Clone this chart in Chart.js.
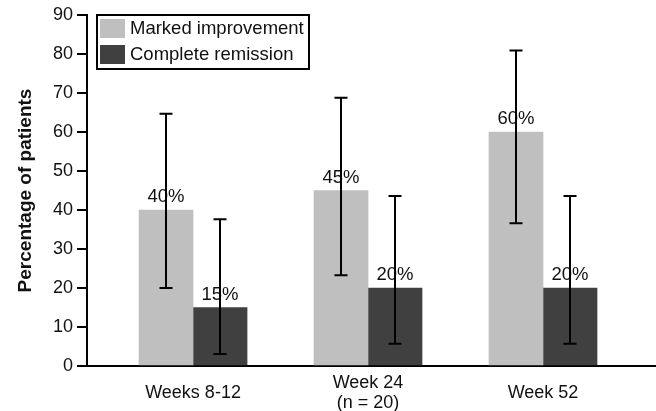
<!DOCTYPE html>
<html>
<head>
<meta charset="utf-8">
<script src="https://cdn.jsdelivr.net/npm/chart.js@4.4.0/dist/chart.umd.min.js"></script>
<style>
  html, body { margin: 0; padding: 0; background: #fff; }
</style>
</head>
<body>
<canvas id="ch" width="656" height="411"></canvas>
<script>
// ── Datos ─────────────────────────────────────────────────────────────────
const categories    = [['Weeks 8-12'], ['Week 24', '(n = 20)'], ['Week 52']];
const seriesNames   = ['Marked improvement', 'Complete remission'];
const marked        = [40, 45, 60];
const remission     = [15, 20, 20];
const markedLow     = [20, 23.3, 36.6];
const markedHigh    = [64.7, 68.8, 80.9];
const remissionLow  = [3.1, 5.7, 5.7];
const remissionHigh = [37.6, 43.6, 43.6];
const yMax  = 90;
const yStep = 10;

const errors = [
    { low: markedLow,    high: markedHigh },
    { low: remissionLow, high: remissionHigh },
];

const FONT = "'Liberation Sans', Arial, sans-serif";
const INK  = '#111';
Chart.defaults.font.family = FONT;

// ── Etiquetas % y barras de error ─────────────────────────────────────────
const barExtras = {
    id: 'barExtras',
    afterDatasetsDraw(chart) {
        const { ctx, scales: { y } } = chart;
        ctx.save();
        // etiquetas primero, la linea de error pasa por encima
        ctx.font = `18.5px ${FONT}`;
        ctx.fillStyle = INK;
        ctx.textAlign = 'center';
        ctx.textBaseline = 'alphabetic';
        chart.data.datasets.forEach((ds, d) => {
            chart.getDatasetMeta(d).data.forEach((el, i) => {
                ctx.fillText(`${ds.data[i].y}%`, el.x, el.y - 8);
            });
        });
        ctx.strokeStyle = '#000';
        ctx.lineWidth = 2;
        chart.data.datasets.forEach((ds, d) => {
            const err = errors[d];
            chart.getDatasetMeta(d).data.forEach((el, i) => {
                const yl = y.getPixelForValue(err.low[i]);
                const yh = y.getPixelForValue(err.high[i]);
                const x = Math.round(el.x);
                ctx.beginPath();
                ctx.moveTo(x, yl); ctx.lineTo(x, yh);
                ctx.moveTo(x - 6.5, yl); ctx.lineTo(x + 6.5, yl);
                ctx.moveTo(x - 6.5, yh); ctx.lineTo(x + 6.5, yh);
                ctx.stroke();
            });
        });
        ctx.restore();
    },
};

// ── Leyenda con marco ─────────────────────────────────────────────────────
const boxedLegend = {
    id: 'boxedLegend',
    afterDraw(chart) {
        const ctx = chart.ctx;
        ctx.save();
        ctx.fillStyle = '#fff';
        ctx.fillRect(97, 15, 212, 54);
        ctx.strokeStyle = '#000';
        ctx.lineWidth = 2;
        ctx.strokeRect(97, 15, 212, 54);
        ctx.font = `18.5px ${FONT}`;
        ctx.textAlign = 'left';
        ctx.textBaseline = 'middle';
        chart.data.datasets.forEach((ds, d) => {
            const top = 19 + d * 26;
            ctx.fillStyle = ds.backgroundColor;
            ctx.fillRect(100, top, 25, 19);
            ctx.fillStyle = INK;
            ctx.fillText(ds.label, 130, top + 10);
        });
        ctx.restore();
    },
};

new Chart(document.getElementById('ch'), {
    type: 'bar',
    data: {
        datasets: [
            {
                label: seriesNames[0],
                data: marked.map((v, i) => ({ x: i, y: v })),
                backgroundColor: '#bfbfbf',
            },
            {
                label: seriesNames[1],
                data: remission.map((v, i) => ({ x: i, y: v })),
                backgroundColor: '#404040',
            },
        ],
    },
    options: {
        responsive: false, animation: false, devicePixelRatio: 1,
        barThickness: 54,
        layout: { padding: { top: 15, right: 1, bottom: 0, left: 0 } },
        plugins: { legend: { display: false }, tooltip: { enabled: false } },
        scales: {
            x: {
                type: 'linear', offset: false,
                min: -0.606, max: 2.64,
                afterBuildTicks: s => { s.ticks = categories.map((_, i) => ({ value: i })); },
                afterFit: s => { s.height = 45; },
                grid:   { display: false },
                border: { display: true, color: '#000', width: 2 },
                ticks:  {
                    callback: v => categories[v],
                    color: INK, padding: 9, crossAlign: 'center', maxRotation: 0,
                    font: { size: 18, lineHeight: 1.1 },
                },
            },
            y: {
                min: 0, max: yMax,
                afterFit: s => { s.width = 87; },
                grid:   { drawOnChartArea: false, drawTicks: true, tickLength: 10, color: '#000', lineWidth: 2 },
                border: { display: true, color: '#000', width: 2 },
                ticks:  { stepSize: yStep, color: INK, padding: 4, font: { size: 18 } },
                title:  {
                    display: true, text: 'Percentage of patients', color: INK,
                    font: { size: 19, weight: 'bold' }, padding: { top: 14, bottom: 0 },
                },
            },
        },
    },
    plugins: [barExtras, boxedLegend],
});
</script>
</body>
</html>
